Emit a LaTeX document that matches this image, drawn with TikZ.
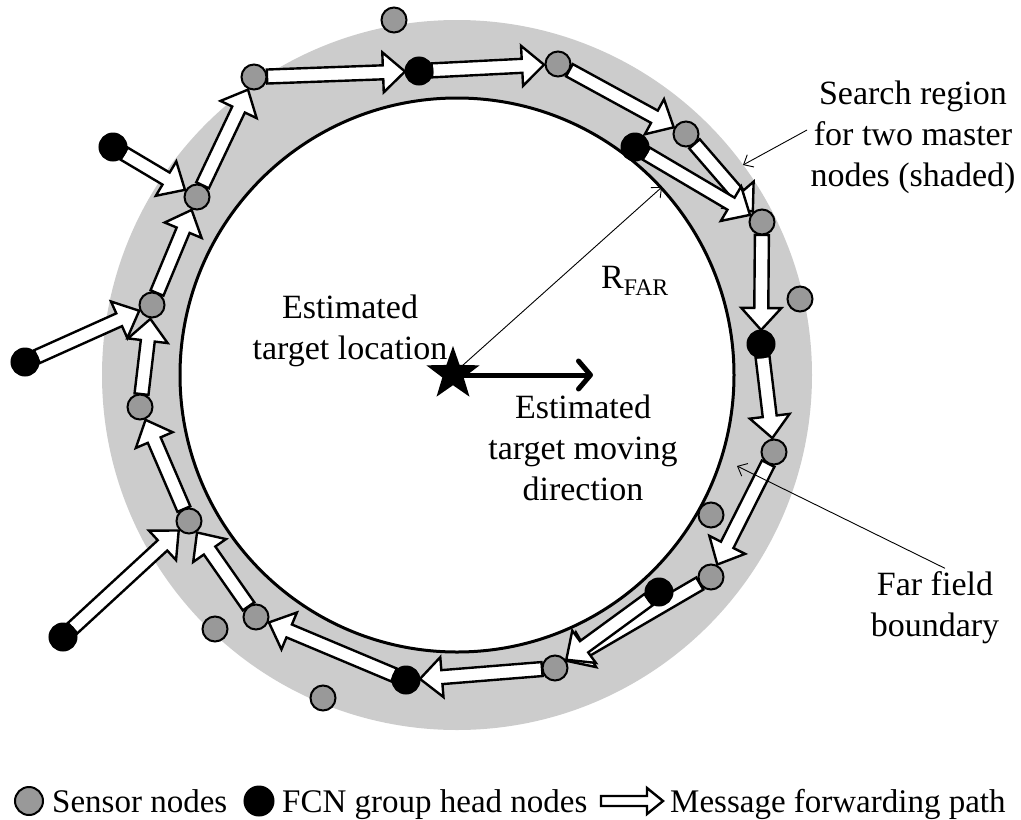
\documentclass[tikz,border=0pt]{standalone}
\usepackage{fontspec}
\setmainfont{Liberation Serif}
\usetikzlibrary{calc,shapes.geometric,arrows.meta}
\pgfdeclarelayer{ring}
\pgfdeclarelayer{paths}
\pgfsetlayers{ring,paths,main}
\definecolor{ringgray}{RGB}{204,204,204}
\definecolor{nodegray}{RGB}{153,153,153}
\tikzset{
  sensor/.style={circle, draw, line width=2pt, fill=nodegray, minimum size=25pt, inner sep=0pt},
  head/.style={circle, draw, line width=2pt, fill=black, minimum size=27pt, inner sep=0pt},
  fwdarrow/.style={draw, fill=white, line width=2.4pt, line join=miter},
  lbl/.style={align=center, font=\fontsize{34}{41}\selectfont},
  leglbl/.style={anchor=base west, inner sep=0pt, font=\fontsize{33}{40}\selectfont},
  pointer/.style={line width=0.9pt, -{Straight Barb[length=8pt,width=14pt]}}
}
\newcommand\blockarrow[5]{%
  \coordinate (h) at ($(#2)!#5!(#1)$);
  \draw[fwdarrow] ($(#1)!#3!90:(#2)$) -- ($(h)!#3!90:(#2)$) -- ($(h)!#4!90:(#2)$) -- (#2)
    -- ($(h)!#4!-90:(#2)$) -- ($(h)!#3!-90:(#2)$) -- ($(#1)!#3!-90:(#2)$) -- cycle;}
\newcommand\fwd[2]{%
  \coordinate (t) at ($(#1.center)!13pt!(#2.center)$);
  \coordinate (p) at ($(#2.center)!14pt!(#1.center)$);
  \blockarrow{t}{p}{7pt}{20pt}{22pt}}
\begin{document}
\begin{tikzpicture}[x=1pt,y=-1pt]
  \useasboundingbox (0,0) rectangle (1021,820);
  \begin{pgfonlayer}{ring}
    \fill[ringgray] (457,375) circle (355);
    \draw[line width=3pt, fill=white] (457,375) circle (277);
  \end{pgfonlayer}

  \node[head] (b1) at (113,147) {};
  \node[head] (b2) at (419,71) {};
  \node[head] (b3) at (635,147) {};
  \node[head] (b4) at (761,344) {};
  \node[head] (b5) at (659,592) {};
  \node[head] (b6) at (406,680) {};
  \node[head] (b7) at (63,637) {};
  \node[head] (b8) at (25,362) {};

  \node[sensor] (g1) at (254,77) {};
  \node[sensor] (g2) at (558,64) {};
  \node[sensor] (g3) at (394,20) {};
  \node[sensor] (g4) at (686,134) {};
  \node[sensor] (g5) at (762,222) {};
  \node[sensor] (g6) at (800,299) {};
  \node[sensor] (g7) at (774,452) {};
  \node[sensor] (g8) at (711,515) {};
  \node[sensor] (g9) at (711,577) {};
  \node[sensor] (g10) at (555,668) {};
  \node[sensor] (g11) at (323,698) {};
  \node[sensor] (g12) at (256,617) {};
  \node[sensor] (g13) at (215,629) {};
  \node[sensor] (g14) at (189,521) {};
  \node[sensor] (g15) at (140,407) {};
  \node[sensor] (g16) at (152,305) {};
  \node[sensor] (g17) at (197,197) {};

  \begin{pgfonlayer}{paths}
    \fwd{b1}{g17}
    \fwd{g16}{g17}
    \fwd{g17}{g1}
    \fwd{g1}{b2}
    \fwd{b2}{g2}
    \fwd{g2}{g4}
    \fwd{g4}{g5}
    \fwd{b3}{g5}
    \fwd{g5}{b4}
    \fwd{b4}{g7}
    \fwd{g7}{g9}
    \fwd{g9}{g10}
    \fwd{b5}{g10}
    \fwd{g10}{b6}
    \fwd{b6}{g12}
    \fwd{g12}{g14}
    \fwd{b7}{g14}
    \fwd{g14}{g15}
    \fwd{g15}{g16}
    \fwd{b8}{g16}
  \end{pgfonlayer}

  \coordinate (rtip) at (662,187);
  \coordinate (dirtip) at (593,375);
  \coordinate (searchtip) at (743,165);
  \coordinate (fartip) at (737,466);
  \draw[pointer] (453,374) -- (rtip);
  \draw[line width=5pt, -{Straight Barb[length=12pt,width=28pt,round]}] (453,375) -- (dirtip);
  \node[star, star points=5, star point ratio=2.5, fill, inner sep=0pt, minimum size=56pt] (target) at (453,374) {};

  \node[lbl] (lblloc) at (350,331) {Estimated\\target location};
  \node[lbl] (lbldir) at (583,448) {Estimated\\target moving\\direction};
  \node[lbl] (lblr) at (635,281) {R\textsubscript{FAR}};
  \node[lbl] (lblsearch) at (913,137) {Search region\\for two master\\nodes (shaded)};
  \node[lbl] (lblfar) at (935,608) {Far field\\boundary};
  \draw[pointer] ([yshift=7pt]lblsearch.west) -- (searchtip);
  \draw[pointer] ([xshift=10pt]lblfar.north) -- (fartip);

  \node[sensor, minimum size=28pt] (legsensor) at (29,801) {};
  \node[leglbl] (legsensortxt) at (52,812) {Sensor nodes};
  \node[head, minimum size=29pt] (leghead) at (259,801) {};
  \node[leglbl] (legheadtxt) at (282,812) {FCN group head nodes};
  \coordinate (legtail) at (601,801);
  \coordinate (legtip) at (663,801);
  \blockarrow{legtail}{legtip}{5pt}{13pt}{16pt}
  \node[leglbl] (legpathtxt) at (670,812) {Message forwarding path};
\end{tikzpicture}
\end{document}
